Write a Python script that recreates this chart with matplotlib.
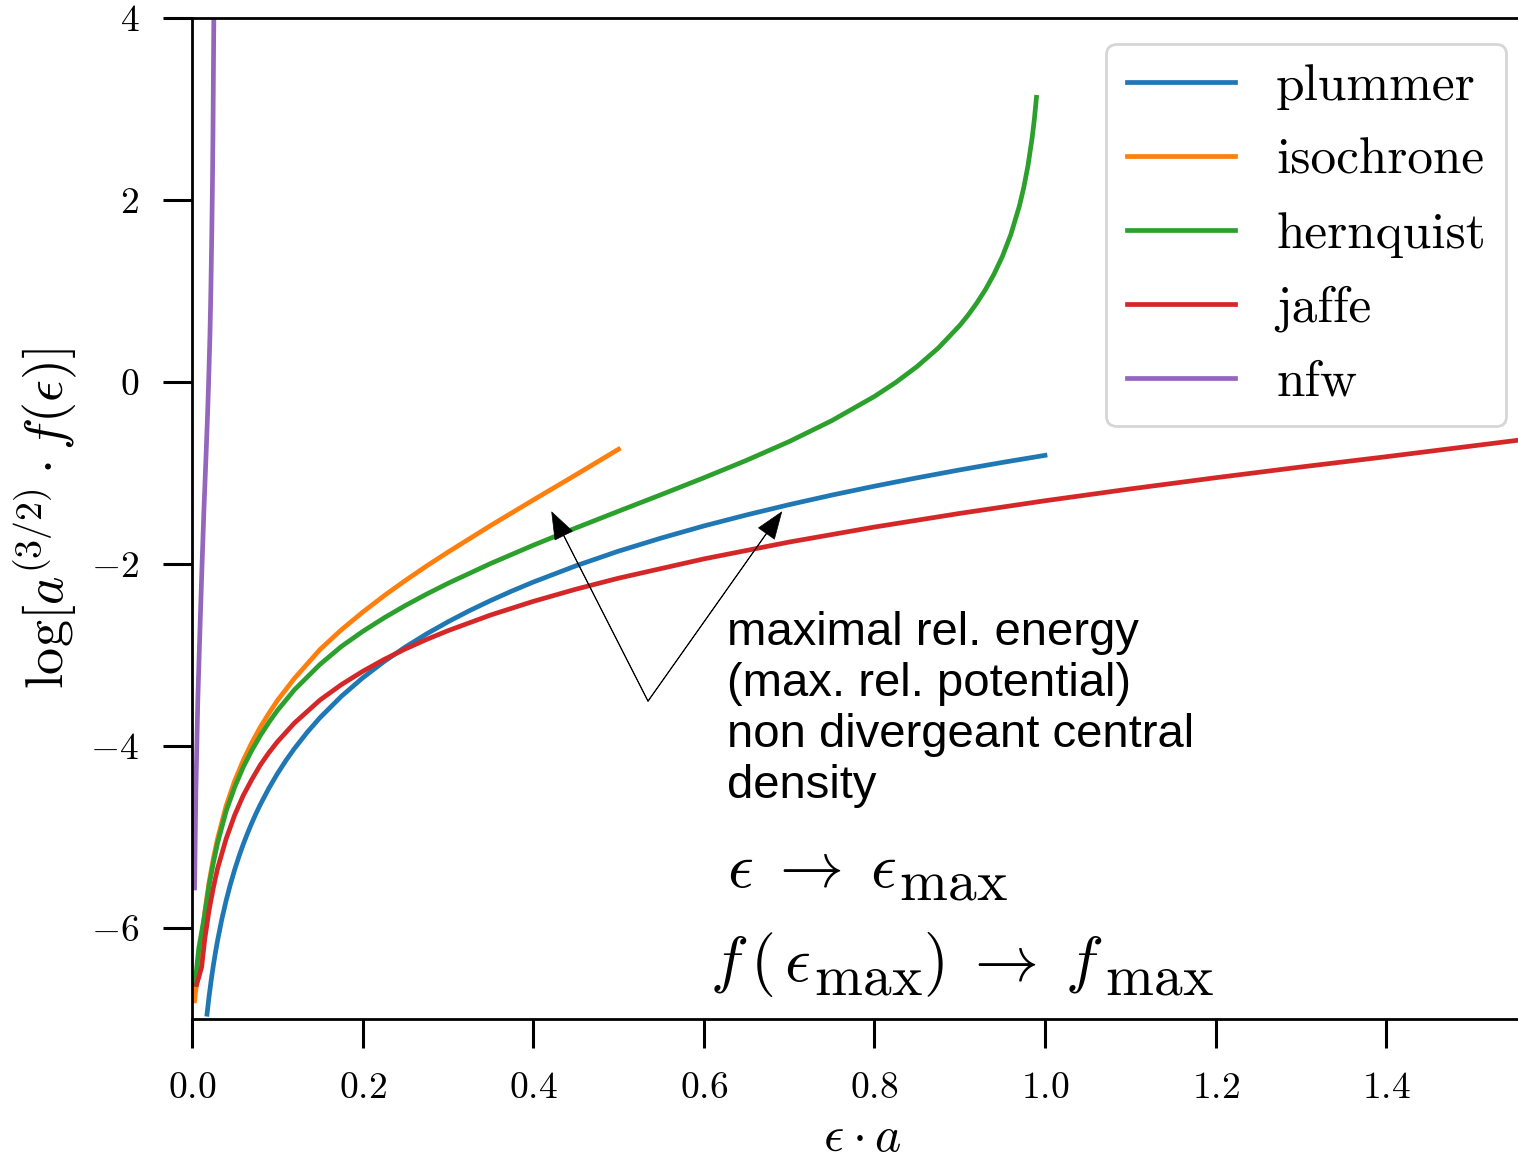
import matplotlib
matplotlib.use('Agg')
import matplotlib.pyplot as plt
from matplotlib.offsetbox import TextArea, HPacker, AnnotationBbox

plt.rcParams['font.family'] = 'serif'
plt.rcParams['font.serif'] = ['cmr10']
plt.rcParams['mathtext.fontset'] = 'cm'
plt.rcParams['axes.formatter.use_mathtext'] = True
plt.rcParams['axes.unicode_minus'] = True

# ---------------- data ----------------
plummer_e = [0.0176, 0.02, 0.0225, 0.025, 0.0275, 0.03, 0.035, 0.04, 0.045, 0.05, 0.055, 0.06,
             0.065, 0.07, 0.075, 0.08, 0.09, 0.10, 0.11, 0.12, 0.135, 0.15, 0.175, 0.20,
             0.225, 0.25, 0.275, 0.30, 0.325, 0.35, 0.375, 0.40, 0.45, 0.50, 0.55, 0.60,
             0.65, 0.70, 0.75, 0.80, 0.85, 0.90, 0.95, 1.00]
plummer_logf = [-6.947, -6.752, -6.573, -6.413, -6.268, -6.136, -5.902, -5.699, -5.520, -5.360, -5.215, -5.082,
                -4.961, -4.848, -4.743, -4.645, -4.466, -4.306, -4.161, -4.029, -3.850, -3.689, -3.455, -3.252,
                -3.073, -2.913, -2.768, -2.636, -2.514, -2.402, -2.297, -2.199, -2.020, -1.859, -1.715, -1.582,
                -1.461, -1.348, -1.243, -1.145, -1.053, -0.966, -0.884, -0.806]

isochrone_e = [0.003, 0.015, 0.02, 0.025, 0.03, 0.04, 0.05, 0.06, 0.07, 0.08, 0.09, 0.10,
               0.12, 0.15, 0.175, 0.20, 0.225, 0.25, 0.275, 0.30, 0.35, 0.40, 0.45, 0.50]
isochrone_logf = [-6.80, -5.823, -5.498, -5.238, -5.017, -4.658, -4.384, -4.160, -3.966, -3.794, -3.643, -3.501,
                  -3.258, -2.940, -2.724, -2.530, -2.350, -2.182, -2.022, -1.870, -1.578, -1.297, -1.020, -0.739]

hernquist_e = [0.0035, 0.008, 0.015, 0.02, 0.025, 0.03, 0.04, 0.05, 0.06, 0.07, 0.08, 0.09,
               0.10, 0.12, 0.15, 0.175, 0.20, 0.225, 0.25, 0.275, 0.30, 0.35, 0.40, 0.45,
               0.50, 0.55, 0.60, 0.65, 0.70, 0.75, 0.80, 0.825, 0.85, 0.875, 0.90, 0.91,
               0.92, 0.93, 0.94, 0.95, 0.96, 0.97, 0.975, 0.98, 0.985, 0.9875, 0.99]
hernquist_logf = [-6.62, -6.22, -5.847, -5.532, -5.286, -5.065, -4.716, -4.452, -4.233, -4.049, -3.887, -3.742,
                  -3.611, -3.383, -3.104, -2.907, -2.742, -2.593, -2.457, -2.331, -2.213, -1.995, -1.794, -1.604,
                  -1.420, -1.238, -1.053, -0.861, -0.655, -0.425, -0.159, -0.005, 0.170, 0.374, 0.621, 0.737,
                  0.867, 1.013, 1.181, 1.379, 1.622, 1.935, 2.133, 2.375, 2.688, 2.886, 3.128]

jaffe_e = [0.0055, 0.0113, 0.015, 0.02, 0.025, 0.03, 0.04, 0.05, 0.06, 0.07, 0.08, 0.09,
           0.10, 0.12, 0.15, 0.175, 0.20, 0.225, 0.25, 0.275, 0.30, 0.35, 0.40, 0.45,
           0.50, 0.60, 0.70, 0.80, 0.90, 1.00, 1.10, 1.20, 1.30, 1.40, 1.5545]
jaffe_logf = [-6.62, -6.43, -6.12, -5.805, -5.558, -5.345, -5.02, -4.76, -4.545, -4.37, -4.21, -4.075,
              -3.955, -3.748, -3.495, -3.326, -3.180, -3.050, -2.934, -2.829, -2.733, -2.561, -2.411, -2.277,
              -2.156, -1.944, -1.759, -1.594, -1.444, -1.305, -1.175, -1.052, -0.934, -0.821, -0.64]

nfw_e = [0.0030, 0.0045, 0.0068, 0.0094, 0.0118, 0.0140, 0.0165, 0.0182, 0.0195, 0.0211,
         0.0221, 0.0232, 0.0240, 0.0246, 0.0251, 0.0256]
nfw_logf = [-5.56, -4.50, -3.50, -2.70, -2.00, -1.40, -0.80, -0.37, 0.00, 0.54,
            1.00, 1.64, 2.20, 2.74, 3.40, 4.00]

labels = ['plummer', 'isochrone', 'hernquist', 'jaffe', 'nfw']
colors = ['#1f77b4', '#ff7f0e', '#2ca02c', '#d62728', '#9467bd']

xticks = [0.0, 0.2, 0.4, 0.6, 0.8, 1.0, 1.2, 1.4]
yticks = [-6, -4, -2, 0, 2, 4]

note_text = "maximal rel. energy\n(max. rel. potential)\nnon divergeant central\ndensity"
arrow_tail = (0.5346, -3.507)
arrow_heads = [(0.4217, -1.428), (0.6913, -1.428)]

# ---------------- figure ----------------
W, H = 1518, 1160
fig = plt.figure(figsize=(W / 100, H / 100), dpi=100)
left, right, top, bottom = 192, 1532, 18, 1019
ax = fig.add_axes([left / W, 1 - bottom / H, (right - left) / W, (bottom - top) / H])

series = [(plummer_e, plummer_logf), (isochrone_e, isochrone_logf),
          (hernquist_e, hernquist_logf), (jaffe_e, jaffe_logf), (nfw_e, nfw_logf)]
for (e, lf), lab, c in zip(series, labels, colors):
    ax.plot(e, lf, color=c, lw=3.4, label=lab, solid_joinstyle='round')

ax.set_xlim(0, (right - left) / 853.0)
ax.set_ylim(-7, 4)
ax.set_xticks(xticks)
ax.set_yticks(yticks)
for s in ax.spines.values():
    s.set_linewidth(2.0)
ax.tick_params(axis='both', which='major', direction='out', length=21, width=2.2,
               labelsize=27, pad=17)

ax.set_xlabel(r'$\epsilon\cdot a$', fontsize=36, labelpad=7)
ax.set_ylabel(r'$\log[a^{(3/2)}\cdot f(\epsilon)]$', fontsize=39, labelpad=8)

leg = ax.legend(loc='upper right', fontsize=37, handlelength=2.1, handletextpad=0.8,
                borderpad=0.4, labelspacing=0.54, borderaxespad=0.5, fancybox=True)
leg.get_frame().set_linewidth(2.0)

# annotation text + arrows
ax.text(0.6272, -4.570, note_text, family='Liberation Sans', fontsize=34,
        ha='left', va='baseline', linespacing=1.2)
for head in arrow_heads:
    ax.annotate('', xy=head, xytext=arrow_tail, xycoords='data', textcoords='data',
                arrowprops=dict(facecolor='black', edgecolor='black', width=0.4,
                                headwidth=14, headlength=19, shrink=0, lw=0.5))

# math lines
F = 46
FS = 46 * 0.9 / 0.7
def math_line(parts):
    kids = [TextArea(s, textprops=dict(fontsize=fs)) for s, fs in parts]
    return HPacker(children=kids, align='baseline', pad=0, sep=0)

line1 = math_line([(r'$\epsilon\;\rightarrow\;\epsilon$', F), (r'${}_{\mathrm{max}}$', FS)])
line2 = math_line([(r'$f\,(\,\epsilon$', F), (r'${}_{\mathrm{max}}$', FS),
                   (r'$)\;\rightarrow\;f$', F), (r'${}_{\mathrm{max}}$', FS)])
ab1 = AnnotationBbox(line1, (0.6272, -5.73), xycoords='data', box_alignment=(0, 0),
                     frameon=False, pad=0)
ab2 = AnnotationBbox(line2, (0.607, -6.78), xycoords='data', box_alignment=(0, 0),
                     frameon=False, pad=0)
ax.add_artist(ab1)
ax.add_artist(ab2)

fig.savefig('out.png', dpi=100)
